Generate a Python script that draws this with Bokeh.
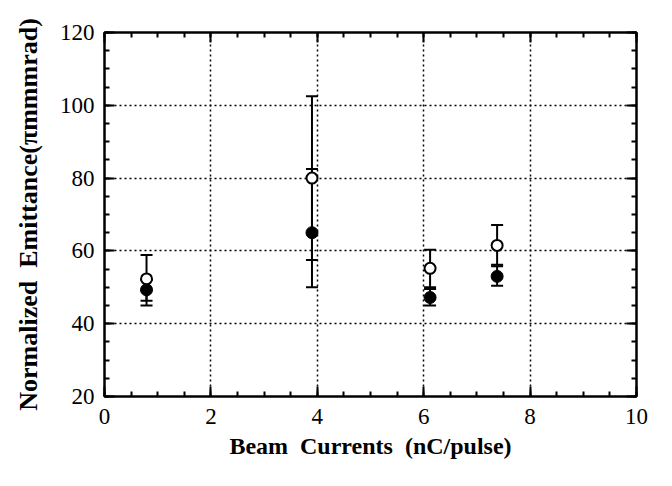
from bokeh.plotting import figure
from bokeh.models import (ColumnDataSource, Whisker, TeeHead, LinearAxis, Range1d,
                          FixedTicker, CustomJSTickFormatter)
from bokeh.embed import file_html
from bokeh.resources import INLINE

# Data
current = [0.79, 3.9, 6.12, 7.38]
open_val = [52.3, 80.0, 55.2, 61.5]
open_lo = [45.0, 57.5, 50.0, 56.2]
open_hi = [58.9, 102.5, 60.3, 67.1]
fill_val = [49.3, 65.0, 47.2, 53.0]
fill_lo = [46.3, 50.0, 45.0, 50.4]
fill_hi = [52.0, 82.5, 49.5, 55.8]

x_ticks = [0, 2, 4, 6, 8, 10]
y_ticks = [20, 40, 60, 80, 100, 120]

FONT = "Liberation Serif"
NB = "\u00a0"

p = figure(width=656, height=470, output_backend="svg", toolbar_location=None,
           x_range=Range1d(0, 10), y_range=Range1d(20, 120),
           min_border_left=104, min_border_right=20, min_border_top=32, min_border_bottom=74)
p.background_fill_color = "white"
p.border_fill_color = "white"
p.outline_line_color = "black"
p.outline_line_width = 2

for ax in (p.xaxis[0], p.yaxis[0]):
    ax.major_tick_in = 10
    ax.major_tick_out = 0
    ax.minor_tick_in = 5
    ax.minor_tick_out = 0
    ax.axis_line_width = 2
    ax.major_tick_line_width = 2
    ax.minor_tick_line_width = 2
    ax.major_label_text_font = FONT
    ax.major_label_text_font_size = "23px"
    ax.major_label_text_color = "black"
    ax.axis_label_text_font = FONT
    ax.axis_label_text_font_style = "bold"
    ax.axis_label_text_color = "black"

p.xaxis.axis_label_text_font_size = "24px"
p.yaxis.axis_label_text_font_size = "26px"
p.xaxis.ticker = FixedTicker(ticks=x_ticks, minor_ticks=[i * 0.5 for i in range(21)])
p.yaxis.ticker = FixedTicker(ticks=y_ticks, minor_ticks=[20 + 5 * i for i in range(21)])
p.xaxis.major_label_standoff = 12
p.yaxis.major_label_standoff = 10
p.xaxis.axis_label = "Beam" + NB * 2 + "Currents" + NB * 2 + "(nC/pulse)"
p.yaxis.axis_label = "Normalized" + NB * 2 + "Emittance(\u03c0mmmrad)"
p.xaxis.axis_label_standoff = 6
p.yaxis.axis_label_standoff = 14

blank = CustomJSTickFormatter(code="return '';")
top = LinearAxis(ticker=FixedTicker(ticks=x_ticks, minor_ticks=[i * 0.5 for i in range(21)]),
                 formatter=blank)
right = LinearAxis(ticker=FixedTicker(ticks=y_ticks, minor_ticks=[20 + 5 * i for i in range(21)]),
                   formatter=blank)
for ax in (top, right):
    ax.major_tick_in = 10
    ax.major_tick_out = 0
    ax.minor_tick_in = 5
    ax.minor_tick_out = 0
    ax.axis_line_width = 2
    ax.major_tick_line_width = 2
    ax.minor_tick_line_width = 2
    ax.major_label_text_font_size = "1px"
    ax.major_label_standoff = 0
p.add_layout(top, "above")
p.add_layout(right, "right")

p.xgrid.ticker = FixedTicker(ticks=[2, 4, 6, 8])
p.ygrid.ticker = FixedTicker(ticks=[40, 60, 80, 100])
for g in (p.xgrid, p.ygrid):
    g.grid_line_color = "black"
    g.grid_line_dash = "2 3"
    g.grid_line_width = 1.5

src_open = ColumnDataSource(dict(x=current, y=open_val, lo=open_lo, hi=open_hi))
src_fill = ColumnDataSource(dict(x=current, y=fill_val, lo=fill_lo, hi=fill_hi))

for src in (src_open, src_fill):
    w = Whisker(source=src, base="x", lower="lo", upper="hi",
                line_color="black", line_width=2,
                upper_head=TeeHead(size=12, line_width=2, line_color="black"),
                lower_head=TeeHead(size=12, line_width=2, line_color="black"))
    p.add_layout(w)

p.scatter("x", "y", source=src_open, size=11, marker="circle",
          fill_color="white", line_color="black", line_width=2)
p.scatter("x", "y", source=src_fill, size=12, marker="circle",
          fill_color="black", line_color="black", line_width=1)

open("out.html", "w").write(file_html(p, INLINE))
